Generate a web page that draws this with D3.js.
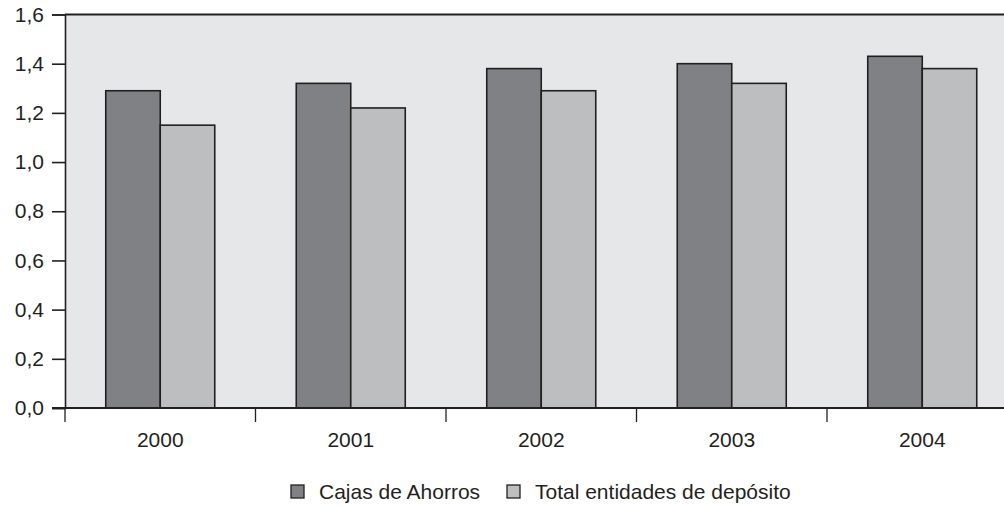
<!DOCTYPE html>
<html>
<head>
<meta charset="utf-8">
<script src="https://cdn.jsdelivr.net/npm/d3@7"></script>
<style>
  html, body { margin: 0; padding: 0; background: #fff; }
  svg { display: block; }
  text { font-family: "Liberation Sans", Arial, sans-serif; fill: #231f20; }
</style>
</head>
<body>
<svg id="chart" width="1004" height="505"></svg>
<script>
// Ratios per year
const years = ["2000", "2001", "2002", "2003", "2004"];
const cajas = [1.29, 1.32, 1.38, 1.40, 1.43];
const total = [1.15, 1.22, 1.29, 1.32, 1.38];
const seriesNames = ["Cajas de Ahorros", "Total entidades de depósito"];
const yTicks = [0, 0.2, 0.4, 0.6, 0.8, 1.0, 1.2, 1.4, 1.6];

const colors = ["#808184", "#bcbec0"];
const ink = "#231f20";
const fontSize = 21;

const svg = d3.select("#chart");
const plotLeft = 65, plotRight = 1017.5, plotTop = 14.5, plotBottom = 408;

const x = d3.scaleBand().domain(years).range([plotLeft, plotRight]).paddingInner(0).paddingOuter(0);
const y = d3.scaleLinear().domain([0, 1.6]).range([plotBottom, plotTop]);
const barW = 54.5;

// plot background
svg.append("rect")
  .attr("x", plotLeft).attr("y", plotTop)
  .attr("width", plotRight - plotLeft).attr("height", plotBottom - plotTop)
  .attr("fill", "#e6e7e8");

// bars
const data = years.map((yr, i) => ({ yr, vals: [cajas[i], total[i]] }));
const groups = svg.append("g").selectAll("g").data(data).join("g");
groups.selectAll("rect")
  .data(d => d.vals.map((v, k) => ({ yr: d.yr, v, k })))
  .join("rect")
  .attr("x", d => x(d.yr) + x.bandwidth() / 2 - barW + d.k * barW)
  .attr("y", d => y(d.v))
  .attr("width", barW)
  .attr("height", d => y(0) - y(d.v))
  .attr("fill", d => colors[d.k])
  .attr("stroke", ink)
  .attr("stroke-width", 1.6);

// top frame line
svg.append("line")
  .attr("x1", plotLeft).attr("x2", plotRight)
  .attr("y1", plotTop).attr("y2", plotTop)
  .attr("stroke", ink).attr("stroke-width", 1.8);

// y axis
const yAxis = d3.axisLeft(y)
  .tickValues(yTicks)
  .tickFormat(d => d3.format(".1f")(d).replace(".", ","))
  .tickSize(13).tickPadding(8);
const gy = svg.append("g").attr("transform", `translate(${plotLeft},0)`).call(yAxis);
gy.select(".domain").attr("stroke", ink).attr("stroke-width", 1.6);
gy.selectAll(".tick line").attr("stroke", ink).attr("stroke-width", 1.6);
gy.selectAll(".tick text")
  .attr("font-size", fontSize)
  .attr("fill", ink);

// x axis: ticks at band boundaries
const gx = svg.append("g");
gx.append("line")
  .attr("x1", plotLeft - 13).attr("x2", plotRight)
  .attr("y1", plotBottom).attr("y2", plotBottom)
  .attr("stroke", ink).attr("stroke-width", 1.8);
gx.selectAll("line.b")
  .data(years)
  .join("line")
  .attr("class", "b")
  .attr("x1", d => x(d)).attr("x2", d => x(d))
  .attr("y1", plotBottom).attr("y2", plotBottom + 14)
  .attr("stroke", ink).attr("stroke-width", 1.3);
gx.selectAll("text")
  .data(years)
  .join("text")
  .attr("x", d => x(d) + x.bandwidth() / 2)
  .attr("y", 446.5)
  .attr("text-anchor", "middle")
  .attr("font-size", fontSize)
  .text(d => d);

// legend
const legend = svg.append("g");
const legendX = [291, 507];
seriesNames.forEach((name, i) => {
  legend.append("rect")
    .attr("x", legendX[i]).attr("y", 485)
    .attr("width", 13).attr("height", 13)
    .attr("fill", colors[i])
    .attr("stroke", ink).attr("stroke-width", 1.3);
  legend.append("text")
    .attr("x", legendX[i] + 28).attr("y", 498.5)
    .attr("font-size", fontSize)
    .text(name);
});
</script>
</body>
</html>
